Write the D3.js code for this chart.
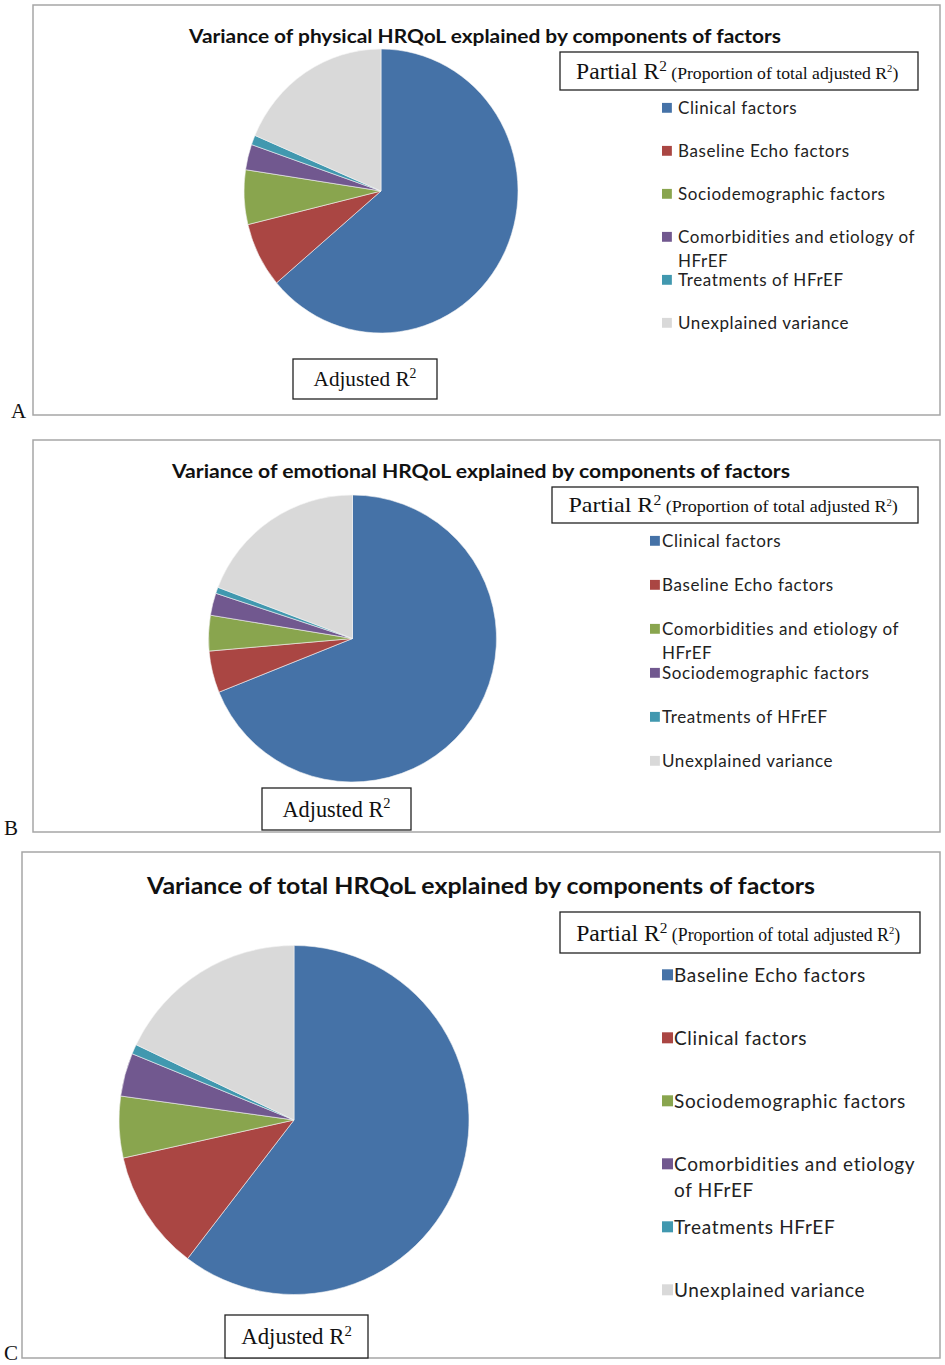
<!DOCTYPE html>
<html>
<head>
  <meta charset="UTF-8">
  <title>Variance of HRQoL explained by components of factors</title>
  <style>
    body { margin: 0; background: #fff; }
    .legend text { font-family: Lato, "Open Sans", sans-serif; fill: #222; }
    .serif { font-family: "Liberation Serif", "DejaVu Serif", serif; fill: #111; }
  </style>
</head>
<body>
<svg></svg>
<script src="https://d3js.org/d3.v7.min.js"></script>
<script>

let width = 945,
    height = 1365;

// data (share of total variance, %)
const titles = [
  "Variance of physical HRQoL explained by components of factors",
  "Variance of emotional HRQoL explained by components of factors",
  "Variance of total HRQoL explained by components of factors"
];
const panelLetters = ["A", "B", "C"];

const categoriesA = ["Clinical factors", "Baseline Echo factors", "Sociodemographic factors",
  "Comorbidities and etiology of\nHFrEF", "Treatments of HFrEF", "Unexplained variance"];
const valuesA = [63.8, 7.4, 6.2, 2.9, 1.1, 18.6];

const categoriesB = ["Clinical factors", "Baseline Echo factors", "Comorbidities and etiology of\nHFrEF",
  "Sociodemographic factors", "Treatments of HFrEF", "Unexplained variance"];
const valuesB = [68.9, 4.7, 4.0, 2.5, 0.7, 19.2];

const categoriesC = ["Baseline Echo factors", "Clinical factors", "Sociodemographic factors",
  "Comorbidities and etiology\nof HFrEF", "Treatments HFrEF", "Unexplained variance"];
const valuesC = [60.4, 11.1, 5.7, 4.0, 0.9, 17.9];

const colours = ["#4572A7", "#AA4643", "#89A54E", "#71588F", "#4198AF", "#D9D9D9"];

// layout of each panel
const layout = [
  { frame: [33, 5, 907, 410], title: [485, 43, 18, 592], pie: [381, 191, 137, 142],
    box: [560, 52, 358, 38], legend: [662, 678, 108, 43, 17], adj: [293, 359, 144, 40], letter: [11, 418] },
  { frame: [33, 440, 907, 392], title: [481, 478, 18, 618], pie: [352.5, 638.5, 144, 143.5],
    box: [552, 487, 366, 36], legend: [650, 662, 541, 44, 17], adj: [262, 788, 149, 42], letter: [4, 835] },
  { frame: [22, 852, 918, 506], title: [481, 894, 22, 668], pie: [294, 1120, 175, 174.5],
    box: [560, 912, 360, 41], legend: [662, 674, 975, 63, 19], adj: [225, 1315, 143, 43], letter: [4, 1360] }
];

const panels = [
  { cats: categoriesA, vals: valuesA },
  { cats: categoriesB, vals: valuesB },
  { cats: categoriesC, vals: valuesC }
];

let svg = d3.select("svg")
    .attr("width", width)
    .attr("height", height);

let pie = d3.pie().sort(null).value(d => d);

panels.forEach((p, i) => {
    let L = layout[i];
    let g = svg.append("g");

    // frame
    g.append("rect")
        .attr("x", L.frame[0]).attr("y", L.frame[1])
        .attr("width", L.frame[2]).attr("height", L.frame[3])
        .attr("fill", "none")
        .attr("stroke", "#a6a6a6")
        .attr("stroke-width", 1.5);

    // title
    g.append("text")
        .attr("x", L.title[0]).attr("y", L.title[1])
        .attr("text-anchor", "middle")
        .attr("textLength", L.title[3])
        .attr("lengthAdjust", "spacingAndGlyphs")
        .style("font-family", "Lato, sans-serif")
        .style("font-weight", "bold")
        .style("font-size", L.title[2] + "px")
        .style("fill", "#111")
        .text(titles[i]);

    // pie (slightly elliptical like the source)
    let arc = d3.arc().innerRadius(0).outerRadius(L.pie[3]);
    g.append("g")
        .attr("transform", "translate(" + L.pie[0] + "," + L.pie[1] + ") scale(" + (L.pie[2] / L.pie[3]) + ",1)")
        .selectAll("path")
        .data(pie(p.vals))
        .enter()
        .append("path")
        .attr("d", arc)
        .attr("fill", (d, j) => colours[j])
        .attr("stroke", "#f4f4f4")
        .attr("stroke-width", 0.6);

    // partial R2 box
    let bx = L.box;
    g.append("rect")
        .attr("x", bx[0]).attr("y", bx[1]).attr("width", bx[2]).attr("height", bx[3])
        .attr("fill", "#fff").attr("stroke", "#222").attr("stroke-width", 1.3);
    let t = g.append("text")
        .attr("class", "serif")
        .attr("x", bx[0] + bx[2] * 0.045)
        .attr("y", bx[1] + bx[3] * 0.7)
        .attr("textLength", bx[2] * 0.9)
        .attr("lengthAdjust", "spacingAndGlyphs")
        .style("font-size", (bx[3] * 0.58) + "px");
    t.append("tspan").text("Partial R");
    t.append("tspan").attr("dy", -bx[3] * 0.2).style("font-size", "0.65em").text("2");
    t.append("tspan").attr("dy", bx[3] * 0.2).style("font-size", "0.75em").text(" (Proportion of total adjusted R");
    t.append("tspan").attr("dy", -bx[3] * 0.17).style("font-size", "0.45em").text("2");
    t.append("tspan").attr("dy", bx[3] * 0.17).style("font-size", "0.75em").text(")");

    // legend
    let lg = L.legend;
    let legend = g.append("g").attr("class", "legend")
        .selectAll("g")
        .data(p.cats)
        .enter().append("g")
        .attr("transform", (d, j) => "translate(0," + (lg[2] + j * lg[3]) + ")");

    legend.append("rect")
        .attr("x", lg[0]).attr("y", -lg[4] * 0.3)
        .attr("width", lg[4] * 0.58).attr("height", lg[4] * 0.58)
        .attr("fill", (d, j) => colours[j]);

    legend.append("text")
        .attr("x", lg[1])
        .attr("y", lg[4] * 0.35)
        .style("font-size", lg[4] + "px")
        .style("letter-spacing", (lg[4] * 0.035) + "px")
        .selectAll("tspan")
        .data(d => d.split("\n"))
        .enter().append("tspan")
        .attr("x", lg[1])
        .attr("dy", (d, k) => k === 0 ? 0 : lg[4] * 1.4)
        .text(d => d);

    // adjusted R2 box
    let a = L.adj;
    g.append("rect")
        .attr("x", a[0]).attr("y", a[1]).attr("width", a[2]).attr("height", a[3])
        .attr("fill", "#fff").attr("stroke", "#222").attr("stroke-width", 1.3);
    let at = g.append("text")
        .attr("class", "serif")
        .attr("x", a[0] + a[2] / 2)
        .attr("y", a[1] + a[3] * 0.68)
        .attr("text-anchor", "middle")
        .style("font-size", (a[3] * 0.53) + "px");
    at.append("tspan").text("Adjusted R");
    at.append("tspan").attr("dy", -a[3] * 0.2).style("font-size", "0.65em").text("2");

    // panel letter
    g.append("text")
        .attr("class", "serif")
        .attr("x", L.letter[0]).attr("y", L.letter[1])
        .style("font-size", "21px")
        .text(panelLetters[i]);
});

</script>
</body>
</html>
